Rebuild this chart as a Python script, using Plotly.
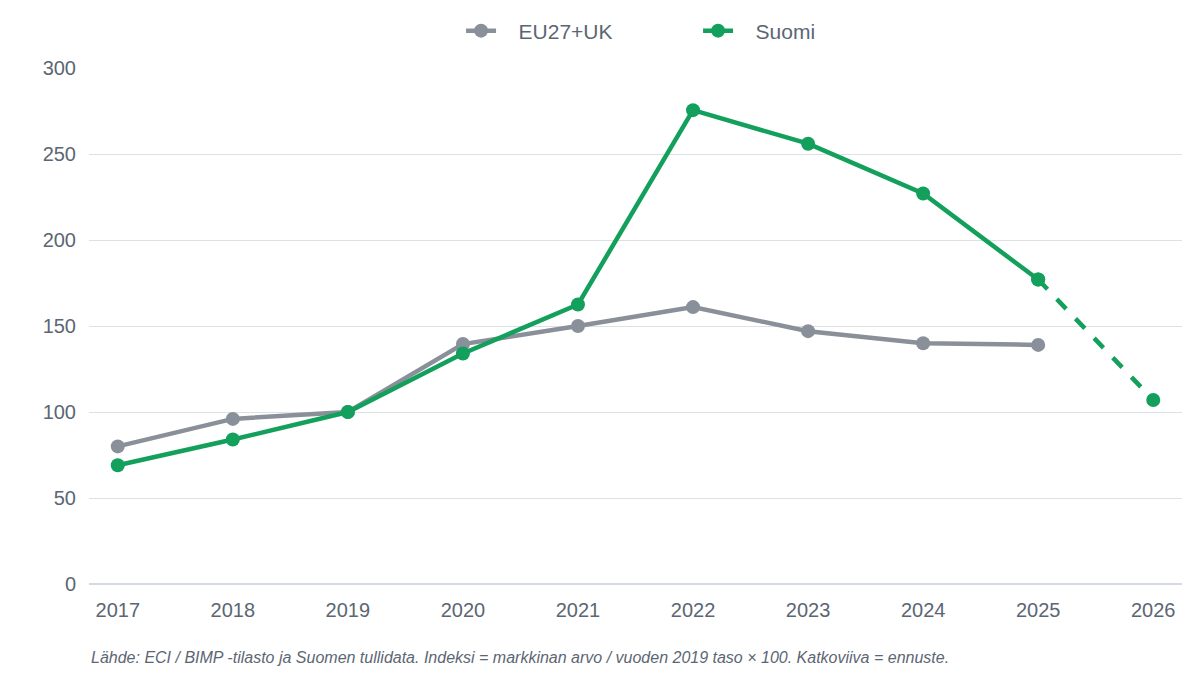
import plotly.graph_objects as go

years = [2017, 2018, 2019, 2020, 2021, 2022, 2023, 2024, 2025, 2026]
eu_years = [2017, 2018, 2019, 2020, 2021, 2022, 2023, 2024, 2025]
eu_values = [80, 96, 100, 139.5, 150, 161, 147, 140, 139]
fi_years = [2017, 2018, 2019, 2020, 2021, 2022, 2023, 2024, 2025]
fi_values = [69, 84, 100, 134, 162.5, 275.5, 256, 227, 177]
fi_fc_years = [2025, 2026]
fi_fc_values = [177, 107]

grey = "#8a9099"
green = "#12a05c"
text_col = "#5c6673"

fig = go.Figure()

fig.add_trace(go.Scatter(
    x=eu_years, y=eu_values, name="   EU27+UK", mode="lines+markers",
    line=dict(color=grey, width=4.5), marker=dict(size=14, color=grey)))

fig.add_trace(go.Scatter(
    x=fi_years, y=fi_values, name="   Suomi", mode="lines+markers",
    line=dict(color=green, width=4.5), marker=dict(size=14, color=green)))

# ennuste
fig.add_trace(go.Scatter(
    x=fi_fc_years, y=fi_fc_values, name="Suomi (ennuste)", mode="lines+markers",
    line=dict(color=green, width=4.5, dash="dash"), marker=dict(size=14, color=green),
    showlegend=False))

fig.update_layout(
    width=1184, height=664,
    plot_bgcolor="white", paper_bgcolor="white",
    font=dict(family="Liberation Sans, Arial, sans-serif", color=text_col, size=20),
    margin=dict(l=81, r=10, t=60, b=88, autoexpand=False),
    legend=dict(orientation="h", x=0.3404, xanchor="left", y=1.0717, yanchor="middle",
                font=dict(size=21), entrywidth=192, entrywidthmode="pixels",
                traceorder="normal"),
    annotations=[dict(
        text="<i>Lähde: ECI / BIMP -tilasto ja Suomen tullidata. Indeksi = markkinan arvo / vuoden 2019 taso × 100. Katkoviiva = ennuste.</i>",
        xref="paper", yref="paper", x=0.0, xanchor="left", y=-0.1434, yanchor="middle",
        showarrow=False, font=dict(size=16, color=text_col, family="Liberation Sans, Arial, sans-serif"),
    )],
)

fig.update_xaxes(
    type="linear", tickvals=years, ticktext=[str(y) for y in years],
    range=[2016.75, 2026.25], showgrid=False, zeroline=False, showline=False,
    ticks="", ticklabelstandoff=12)
fig.update_yaxes(
    range=[0, 300], tickvals=[0, 50, 100, 150, 200, 250, 300],
    gridcolor="#dde1e6", gridwidth=1, zeroline=True, zerolinecolor="#d5dae0",
    zerolinewidth=1.5, showline=False, ticks="", ticklabelstandoff=12)

fig.write_html("out.html")
